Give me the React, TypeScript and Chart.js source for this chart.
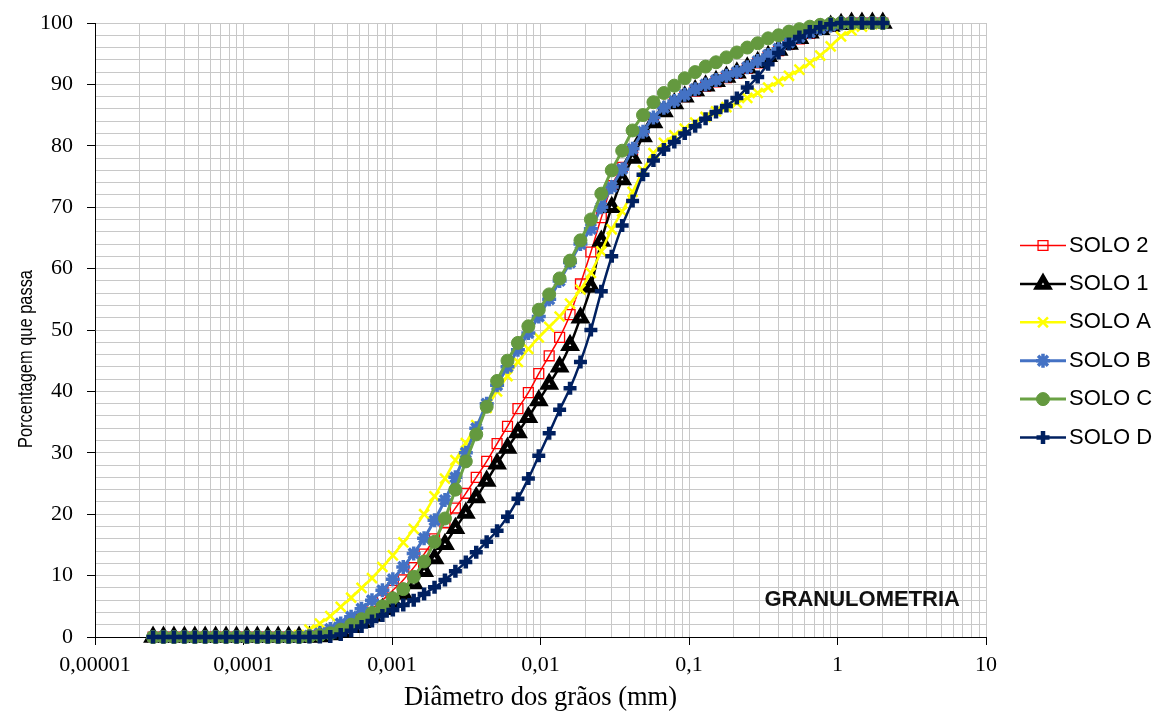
import React, { useEffect, useRef } from 'react';
import { Chart, registerables } from 'chart.js';
import { drawPoint } from 'chart.js/helpers';

Chart.register(...registerables);

// Grain diameters (mm), shared by all series
const diameters = [
  2.46e-5, 2.89e-5, 3.40e-5, 4.00e-5, 4.70e-5, 5.52e-5, 6.49e-5, 7.63e-5, 8.97e-5,
  1.054e-4, 1.239e-4, 1.456e-4, 1.712e-4, 2.012e-4, 2.365e-4, 2.780e-4, 3.268e-4, 3.841e-4, 4.515e-4, 5.307e-4, 6.237e-4, 7.332e-4, 8.618e-4,
  1.013e-3, 1.191e-3, 1.400e-3, 1.645e-3, 1.934e-3, 2.273e-3, 2.672e-3, 3.141e-3, 3.692e-3, 4.340e-3, 5.101e-3, 5.996e-3, 7.047e-3, 8.284e-3, 9.736e-3,
  1.144e-2, 1.345e-2, 1.581e-2, 1.858e-2, 2.184e-2, 2.567e-2, 3.018e-2, 3.548e-2, 4.170e-2, 4.902e-2, 5.762e-2, 6.773e-2, 7.962e-2, 9.359e-2,
  0.1100, 0.1293, 0.1520, 0.1786, 0.2100, 0.2468, 0.2901, 0.3410, 0.4009, 0.4712, 0.5539, 0.6511, 0.7653, 0.8995,
  1.057, 1.243, 1.461, 1.717, 2.018,
];

const solo2 = [
  0, 0, 0, 0, 0, 0, 0, 0, 0, 0,
  0, 0, 0, 0, 0, 0.1, 0.3, 0.7, 1.3, 2.2,
  3.3, 4.6, 6.0, 7.6, 9.3, 11.3, 13.5, 16.0, 18.6, 21.0,
  23.4, 26.0, 28.6, 31.5, 34.3, 37.2, 39.8, 42.9, 45.8, 48.8,
  52.5, 57.5, 62.7, 68.3, 73.5, 76.5, 79.3, 82.0, 84.3, 86.0,
  87.1, 88.0, 88.9, 89.7, 90.4, 91.1, 91.8, 92.6, 93.5, 94.5,
  95.5, 96.5, 97.4, 98.3, 99.0, 99.5, 99.8, 100, 100, 100,
  100,
];

const solo1 = [
  0, 0, 0, 0, 0, 0, 0, 0, 0, 0,
  0, 0, 0, 0, 0, 0, 0.1, 0.4, 0.9, 1.6,
  2.4, 3.4, 4.5, 5.7, 7.0, 8.7, 10.7, 12.8, 15.1, 17.7,
  20.2, 22.7, 25.4, 28.2, 30.8, 33.3, 35.8, 38.5, 41.2, 44.0,
  47.5, 52.0, 57.0, 64.5, 70.0, 74.5, 78.0, 81.5, 83.8, 85.6,
  86.9, 88.0, 89.0, 89.8, 90.5, 91.2, 91.9, 92.7, 93.6, 94.6,
  95.6, 96.6, 97.5, 98.4, 99.0, 99.5, 99.8, 100, 100, 100,
  100,
];

const soloA = [
  0, 0, 0, 0, 0, 0, 0, 0, 0, 0,
  0, 0, 0, 0, 0.3, 1.2, 2.2, 3.4, 4.9, 6.4,
  8.0, 9.6, 11.4, 13.3, 15.4, 17.6, 20.0, 22.9, 25.8, 28.8,
  31.6, 34.5, 37.3, 40.0, 42.5, 44.8, 46.9, 48.8, 50.5, 52.2,
  54.3, 56.6, 59.3, 62.8, 66.4, 69.3, 72.5, 76.0, 78.8, 80.5,
  81.7, 82.8, 83.8, 84.7, 85.6, 86.3, 87.0, 87.8, 88.6, 89.5,
  90.5, 91.4, 92.4, 93.5, 94.7, 96.2, 97.8, 98.8, 99.4, 99.8,
  100,
];

const soloB = [
  0, 0, 0, 0, 0, 0, 0, 0, 0, 0,
  0, 0, 0, 0, 0, 0.2, 0.6, 1.3, 2.2, 3.3,
  4.6, 6.0, 7.6, 9.4, 11.4, 13.6, 16.1, 19.0, 22.3, 26.0,
  30.0, 34.0, 38.0, 41.0, 44.0, 46.8, 49.5, 52.2, 55.0, 58.0,
  61.0, 64.0, 66.5, 70.0, 73.3, 76.2, 79.5, 82.3, 84.6, 86.2,
  87.3, 88.3, 89.2, 90.0, 90.7, 91.4, 92.0, 92.8, 93.8, 94.8,
  95.8, 96.8, 97.7, 98.5, 99.1, 99.6, 99.9, 100, 100, 100,
  100,
];

const soloC = [
  0, 0, 0, 0, 0, 0, 0, 0, 0, 0,
  0, 0, 0, 0, 0, 0.1, 0.3, 0.6, 1.2, 2.0,
  2.9, 3.9, 5.0, 6.3, 7.8, 9.8, 12.3, 15.5, 19.3, 24.0,
  28.6, 33.0, 37.5, 41.7, 45.0, 47.9, 50.6, 53.3, 55.8, 58.4,
  61.3, 64.6, 68.0, 72.2, 76.0, 79.2, 82.5, 85.0, 87.1, 88.6,
  89.8, 91.0, 92.0, 92.9, 93.6, 94.4, 95.2, 96.0, 96.7, 97.5,
  98.0, 98.6, 99.0, 99.4, 99.7, 99.9, 100, 100, 100, 100,
  100,
];

const soloD = [
  0, 0, 0, 0, 0, 0, 0, 0, 0, 0,
  0, 0, 0, 0, 0, 0, 0, 0.1, 0.4, 1.0,
  1.7, 2.6, 3.5, 4.4, 5.2, 6.0, 7.0, 8.1, 9.3, 10.7,
  12.2, 13.8, 15.5, 17.3, 19.6, 22.5, 25.8, 29.5, 33.2, 37.0,
  40.5, 44.8, 50.0, 56.3, 62.0, 67.0, 71.0, 75.3, 77.6, 79.4,
  80.6, 82.0, 83.2, 84.4, 85.5, 86.5, 87.8, 89.5, 91.2, 93.3,
  95.1, 96.6, 97.7, 98.6, 99.3, 99.8, 100, 100, 100, 100,
  100,
];

const seriesLabels = ['SOLO 2', 'SOLO 1', 'SOLO A', 'SOLO B', 'SOLO C', 'SOLO D'];
const seriesValues = [solo2, solo1, soloA, soloB, soloC, soloD];

const xMajorValues = [0.00001, 0.0001, 0.001, 0.01, 0.1, 1, 10];
const xMajorLabels = ['0,00001', '0,0001', '0,001', '0,01', '0,1', '1', '10'];
const xMinorMultipliers = [2, 3, 4, 5, 6, 7, 8, 9];

const chartTitle = 'GRANULOMETRIA';
const xTitle = 'Diâmetro dos grãos (mm)';
const yTitle = 'Porcentagem que passa';

const styles = [
  { color: '#ff0000', lineWidth: 1.5, pointStyle: 'rect', radius: 7, bg: 'rgba(255,255,255,0)', border: '#ff0000', bw: 1.3 },
  { color: '#000000', lineWidth: 2.5, pointStyle: 'triangle', radius: 6.5, bg: '#ffffff', border: '#000000', bw: 5 },
  { color: '#ffff00', lineWidth: 2.5, pointStyle: 'crossRot', radius: 7, bg: '#ffff00', border: '#ffff00', bw: 2.5 },
  { color: '#4472c4', lineWidth: 3, pointStyle: 'star', radius: 7, bg: '#4472c4', border: '#4472c4', bw: 3.5 },
  { color: '#6aa244', lineWidth: 3, pointStyle: 'circle', radius: 6.5, bg: '#64993f', border: '#64993f', bw: 1 },
  { color: '#002060', lineWidth: 2.5, pointStyle: 'cross', radius: 6.5, bg: '#002060', border: '#002060', bw: 4.5 },
];

const xGridValues: number[] = [];
xMajorValues.forEach((v, i) => {
  xGridValues.push(v);
  if (i < xMajorValues.length - 1) xMinorMultipliers.forEach((m) => xGridValues.push(v * m));
});

const overlayPlugin = {
  id: 'overlay',
  afterDraw(chart: any) {
    const ctx = chart.ctx as CanvasRenderingContext2D;
    const area = chart.chartArea;
    ctx.save();
    // legend
    const lx0 = area.right + 34;
    const lx1 = area.right + 80;
    const lxm = (lx0 + lx1) / 2;
    styles.forEach((s, i) => {
      const y = 245.5 + i * 38.4;
      ctx.strokeStyle = s.color;
      ctx.lineWidth = s.lineWidth;
      ctx.beginPath();
      ctx.moveTo(lx0, y);
      ctx.lineTo(lx1, y);
      ctx.stroke();
      ctx.fillStyle = s.bg;
      ctx.strokeStyle = s.border;
      ctx.lineWidth = s.bw;
      drawPoint(ctx, { pointStyle: s.pointStyle, radius: s.radius, rotation: 0, borderWidth: s.bw } as any, lxm, y);
      ctx.fillStyle = '#000000';
      ctx.font = '22px "Liberation Sans", Arial, sans-serif';
      ctx.textAlign = 'left';
      ctx.textBaseline = 'middle';
      ctx.fillText(seriesLabels[i], lx1 + 3, y);
    });
    // in-plot label
    ctx.fillStyle = '#111111';
    ctx.font = 'bold 22px "Liberation Sans", Arial, sans-serif';
    ctx.textAlign = 'right';
    ctx.textBaseline = 'middle';
    ctx.fillText(chartTitle, area.right - 26, 600);
    // y axis title (condensed)
    ctx.save();
    ctx.translate(26, 359);
    ctx.rotate(-Math.PI / 2);
    ctx.fillStyle = '#000000';
    ctx.font = '20px "Liberation Sans", Arial, sans-serif';
    ctx.textAlign = 'center';
    ctx.textBaseline = 'middle';
    ctx.fillText(yTitle, 0, 0, 178);
    ctx.restore();
    ctx.restore();
  },
};

export default function App() {
  const ref = useRef<HTMLCanvasElement | null>(null);
  useEffect(() => {
    if (!ref.current) return;
    const order = [5, 4, 3, 2, 1, 0];
    const datasets = seriesValues.map((vals, k) => {
      const s = styles[k];
      return {
        label: seriesLabels[k],
        data: diameters.map((d, i) => ({ x: d, y: vals[i] })),
        borderColor: s.color,
        borderWidth: s.lineWidth,
        backgroundColor: s.bg,
        pointStyle: s.pointStyle,
        pointRadius: s.radius,
        pointBackgroundColor: s.bg,
        pointBorderColor: s.border,
        pointBorderWidth: s.bw,
        cubicInterpolationMode: 'monotone',
        fill: false,
        clip: false,
        order: order[k],
      };
    });
    const chart = new Chart(ref.current, {
      type: 'line',
      data: { datasets } as any,
      plugins: [overlayPlugin],
      options: {
        responsive: true,
        maintainAspectRatio: false,
        animation: false,
        layout: { autoPadding: false, padding: { top: 23, right: 170, bottom: 0, left: 0 } },
        plugins: { legend: { display: false }, tooltip: { enabled: false } },
        scales: {
          x: {
            type: 'logarithmic',
            min: 0.00001,
            max: 10,
            afterBuildTicks: (scale: any) => {
              scale.ticks = xGridValues.map((v) => ({ value: v }));
            },
            afterFit: (scale: any) => {
              scale.height = 77;
            },
            ticks: {
              autoSkip: false,
              maxRotation: 0,
              minRotation: 0,
              padding: 7,
              color: '#000000',
              font: { family: '"Liberation Serif", "Times New Roman", serif', size: 22 },
              callback: (v: any) => {
                const idx = xMajorValues.indexOf(Number(v));
                return idx >= 0 ? xMajorLabels[idx] : '';
              },
            },
            grid: {
              color: '#c8c8c8',
              lineWidth: 1,
              tickLength: 8,
              tickColor: (c: any) => (c.tick && xMajorValues.indexOf(c.tick.value) >= 0 ? '#000000' : 'rgba(0,0,0,0)'),
            },
            border: { display: true, color: '#000000', width: 1 },
            title: {
              display: true,
              text: xTitle,
              color: '#000000',
              font: { family: '"Liberation Serif", "Times New Roman", serif', size: 26.5 },
              padding: { top: 0, bottom: 0 },
            },
          },
          y: {
            type: 'linear',
            min: 0,
            max: 100,
            afterFit: (scale: any) => {
              scale.width = 95;
              scale.paddingTop = 0;
              scale.paddingBottom = 0;
            },
            ticks: {
              stepSize: 2,
              autoSkip: false,
              padding: 14,
              color: '#000000',
              font: { family: '"Liberation Serif", "Times New Roman", serif', size: 22 },
              callback: (v: any) => (Number(v) % 10 === 0 ? String(v) : ''),
            },
            grid: {
              color: '#c8c8c8',
              lineWidth: 1,
              tickLength: 8,
              tickColor: (c: any) => (c.tick && c.tick.value % 10 === 0 ? '#000000' : 'rgba(0,0,0,0)'),
            },
            border: { display: true, color: '#000000', width: 1 },
            title: { display: false },
          },
        },
      } as any,
    });
    return () => chart.destroy();
  }, []);
  return (
    <div style={{ position: 'absolute', left: 0, top: 0, width: 1156, height: 714, background: '#ffffff' }}>
      <canvas ref={ref} />
    </div>
  );
}
